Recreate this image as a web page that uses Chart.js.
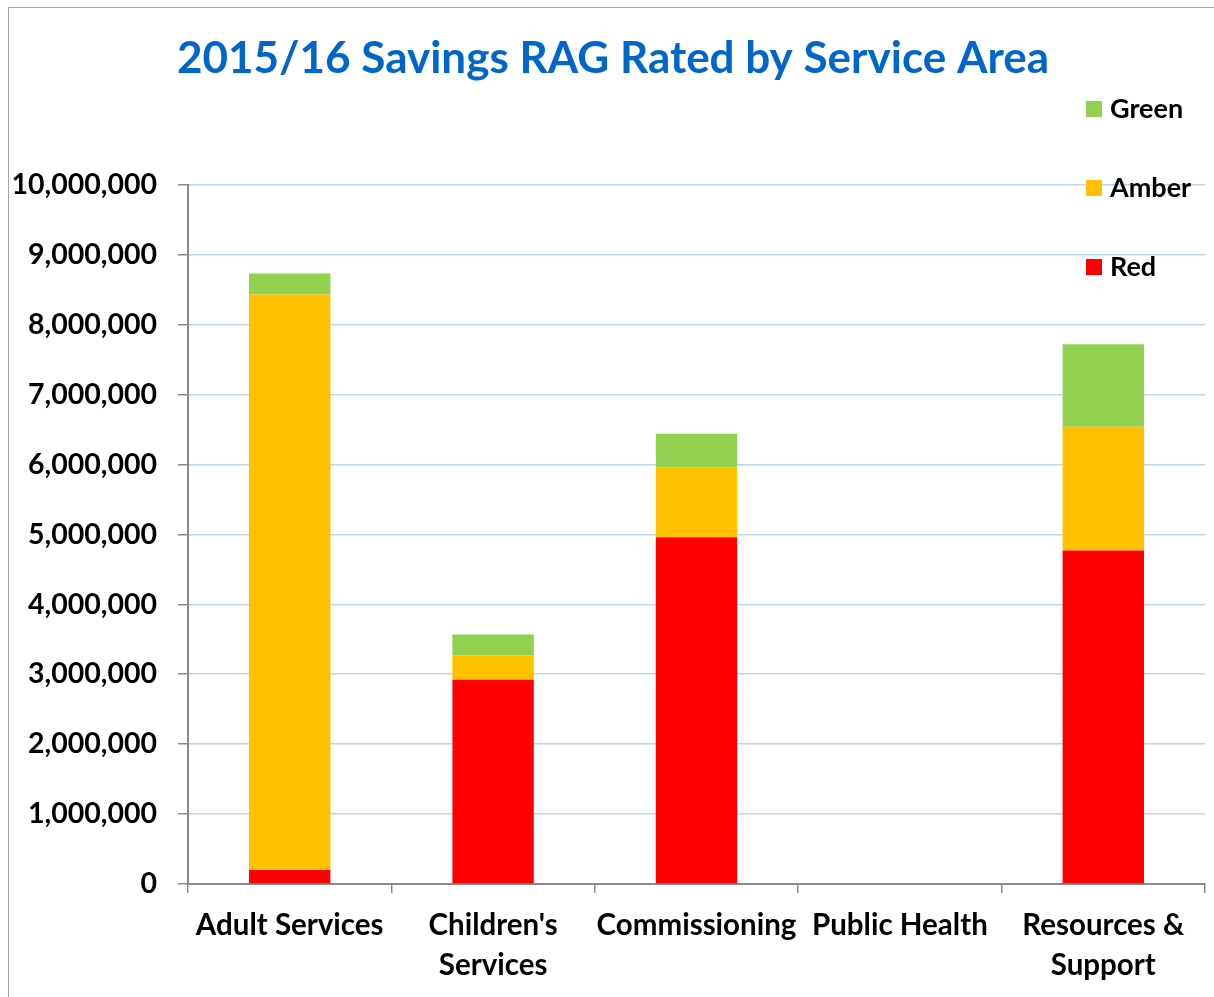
<!DOCTYPE html>
<html>
<head>
<meta charset="utf-8">
<script src="https://cdn.jsdelivr.net/npm/chart.js@4.4.1/dist/chart.umd.min.js"></script>
<style>
    html, body { margin: 0; padding: 0; background: #fff; }
    #wrap { position: relative; width: 1214px; height: 997px; overflow: hidden; }
    #frame { position: absolute; left: 8px; top: 7px; right: -2px; bottom: -2px;
             border-left: 1px solid #a6a6a6; border-top: 1px solid #a6a6a6; }
    #savingsChart { position: absolute; left: 0; top: 0; }
    #legend { position: absolute; left: 1086px; top: 91px; font-family: Lato, sans-serif;
              font-weight: bold; font-size: 27px; color: #000; }
    .legend-item { height: 79px; display: flex; align-items: flex-start; }
    .legend-box { width: 16px; height: 16px; margin-top: 10px; margin-right: 8px; }
</style>
</head>
<body>
<div id="wrap">
    <div id="frame"></div>
    <canvas id="savingsChart" width="1214" height="997"></canvas>
    <div id="legend"></div>
</div>
<script>
// 서비스 영역
const CATEGORIES = [
    'Adult Services',
    ["Children's", 'Services'],
    'Commissioning',
    'Public Health',
    ['Resources &', 'Support']
];

// RAG 값
const RED_VALUES   = [200000, 2920000, 4960000, 0, 4770000];
const AMBER_VALUES = [8230000, 350000, 1000000, 0, 1770000];
const GREEN_VALUES = [300000, 300000, 480000, 0, 1180000];

const SERIES_NAMES  = ['Red', 'Amber', 'Green'];
const SERIES_COLORS = ['#FF0000', '#FFC000', '#92D050'];

const Y_TICKS = [0, 1000000, 2000000, 3000000, 4000000, 5000000,
                 6000000, 7000000, 8000000, 9000000, 10000000];

const TITLE = '2015/16 Savings RAG Rated by Service Area';
const FONT = 'Lato';

let savingsChart = null;

function buildLegend() {
    const legend = document.getElementById('legend');
    // 범례는 위에서 아래로 Green, Amber, Red
    for (let i = SERIES_NAMES.length - 1; i >= 0; i--) {
        const item = document.createElement('div');
        item.className = 'legend-item';
        const box = document.createElement('span');
        box.className = 'legend-box';
        box.style.background = SERIES_COLORS[i];
        const label = document.createElement('span');
        label.textContent = SERIES_NAMES[i];
        item.appendChild(box);
        item.appendChild(label);
        legend.appendChild(item);
    }
}

// 제목을 플롯 영역 위쪽 가운데로 (y축 라벨 폭 제외)
const titleShift = {
    id: 'titleShift',
    afterLayout: function(chart) {
        if (chart.titleBlock) {
            chart.titleBlock.left = 21;
        }
    }
};

function initSavingsChart() {
    const ctx = document.getElementById('savingsChart');
    const values = [RED_VALUES, AMBER_VALUES, GREEN_VALUES];

    const datasets = SERIES_NAMES.map((name, i) => ({
        label: name,
        data: values[i],
        backgroundColor: SERIES_COLORS[i],
        borderWidth: 0,
        barPercentage: 0.4,
        categoryPercentage: 1.0
    }));

    const config = {
        type: 'bar',
        data: {
            labels: CATEGORIES,
            datasets: datasets
        },
        plugins: [titleShift],
        options: {
            responsive: false,
            animation: false,
            layout: {
                padding: { top: 0, bottom: 0, left: 0, right: 9 }
            },
            plugins: {
                legend: { display: false },
                tooltip: { enabled: false },
                title: {
                    display: true,
                    text: TITLE,
                    color: '#0066CC',
                    font: { family: FONT, size: 44, weight: 'bold', lineHeight: 1.2 },
                    padding: { top: 32, bottom: 100 }
                }
            },
            scales: {
                x: {
                    stacked: true,
                    offset: true,
                    grid: {
                        display: true,
                        offset: true,
                        drawOnChartArea: false,
                        drawTicks: true,
                        tickLength: 9,
                        tickColor: '#898989',
                        lineWidth: 1.5
                    },
                    border: { display: true, color: '#898989', width: 2 },
                    ticks: {
                        color: '#000',
                        font: { family: FONT, size: 29.5, weight: 'bold', lineHeight: 1.36 },
                        padding: 12,
                        maxRotation: 0,
                        minRotation: 0,
                        autoSkip: false
                    },
                    afterFit: function(scale) { scale.height = 113; }
                },
                y: {
                    stacked: true,
                    min: 0,
                    max: 10000000,
                    afterBuildTicks: function(scale) {
                        scale.ticks = Y_TICKS.map(v => ({ value: v }));
                    },
                    grid: {
                        color: '#BCD5F0',
                        lineWidth: 1.5,
                        drawTicks: true,
                        tickLength: 10,
                        tickColor: '#898989'
                    },
                    border: { display: true, color: '#898989', width: 2 },
                    ticks: {
                        color: '#000',
                        padding: 21,
                        font: { family: FONT, size: 28.5, weight: 'bold' },
                        callback: function(value) {
                            return Number(value).toLocaleString('en-US');
                        }
                    },
                    afterFit: function(scale) { scale.width = 188; }
                }
            }
        }
    };

    savingsChart = new Chart(ctx, config);
}

buildLegend();
initSavingsChart();
</script>
</body>
</html>
